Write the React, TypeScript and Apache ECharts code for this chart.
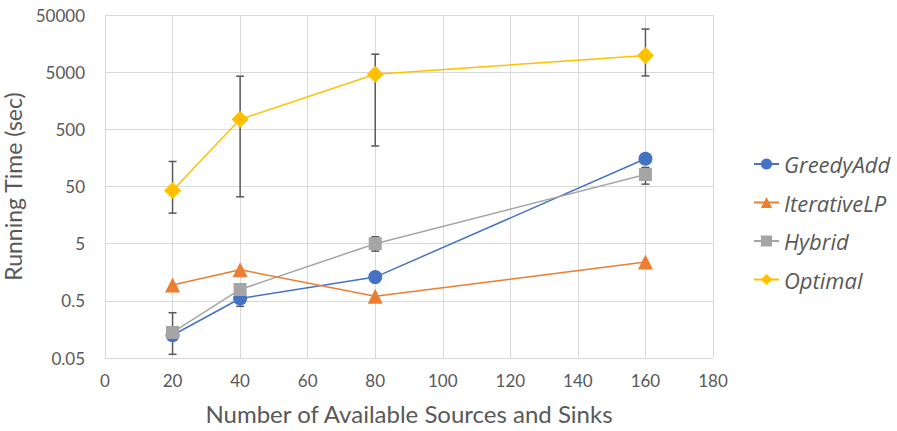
import React, { useEffect, useRef } from "react";
import * as echarts from "echarts";

const xValues = [20, 40, 80, 160];
const greedyAdd = [0.125, 0.55, 1.3, 153];
const iterativeLP = [0.95, 1.75, 0.6, 2.4];
const hybrid = [0.14, 0.79, 5.0, 81];
const optimal = [42.6, 748, 4610, 9750];

const optimalLow = [17.1, 33, 256, 4300];
const optimalHigh = [137, 4250, 10300, 28400];
const hybridLow = [0.058, 0.4, 3.7, 55];
const hybridHigh = [0.31, 0.95, 6.6, 108];

const yTickLabels = ["0.05", "0.5", "5", "50", "500", "5000", "50000"];
const Y_BASE = 0.05;

const toY = (v: number) => Math.log10(v / Y_BASE);

const FONT = "Lato";
const TEXT = "#595959";

export default function App() {
  const ref = useRef<HTMLDivElement>(null);
  useEffect(() => {
    if (!ref.current) return;
    const chart = echarts.init(ref.current, undefined, { renderer: "svg" });
    const pts = (arr: number[]) => xValues.map((x, i) => [x, toY(arr[i])]);
    const errData = [
      ...xValues.map((x, i) => [x, toY(optimalLow[i]), toY(optimalHigh[i])]),
      ...xValues.map((x, i) => [x, toY(hybridLow[i]), toY(hybridHigh[i])]),
    ];
    chart.setOption({
      animation: false,
      backgroundColor: "#fff",
      textStyle: { fontFamily: FONT },
      grid: {
        left: 105,
        right: 184,
        top: 15,
        bottom: 73,
        containLabel: false,
        outerBoundsMode: "none",
      },
      legend: {
        orient: "vertical",
        left: 748,
        top: 148,
        itemGap: 16.5,
        itemWidth: 25,
        itemHeight: 14,
        textStyle: { fontFamily: "Open Sans", fontSize: 22, fontStyle: "italic", color: TEXT },
        data: ["GreedyAdd", "IterativeLP", "Hybrid", "Optimal"],
      },
      xAxis: {
        type: "value",
        min: 0,
        max: 180,
        interval: 20,
        name: "Number of Available Sources and Sinks",
        nameLocation: "middle",
        nameGap: 43,
        nameTextStyle: { fontFamily: FONT, fontSize: 24, color: TEXT },
        axisLine: { show: true, lineStyle: { color: "#d9d9d9" } },
        axisTick: { show: false },
        axisLabel: { fontFamily: FONT, fontSize: 17, color: TEXT, margin: 14 },
        splitLine: { show: true, lineStyle: { color: "#d9d9d9" } },
      },
      yAxis: {
        type: "value",
        min: 0,
        max: 6,
        interval: 1,
        name: "Running Time (sec)",
        nameLocation: "middle",
        nameGap: 72,
        nameTextStyle: { fontFamily: FONT, fontSize: 23, color: TEXT },
        axisLine: { show: true, lineStyle: { color: "#d9d9d9" } },
        axisTick: { show: false },
        axisLabel: {
          fontFamily: FONT,
          fontSize: 17,
          color: TEXT,
          margin: 20,
          formatter: (v: number) => yTickLabels[Math.round(v)] ?? "",
        },
        splitLine: { show: true, lineStyle: { color: "#d9d9d9" } },
      },
      series: [
        {
          type: "custom",
          name: "errors",
          silent: true,
          z: 1,
          data: errData,
          renderItem: (params: any, api: any) => {
            const x = api.value(0);
            const lo = api.coord([x, api.value(1)]);
            const hi = api.coord([x, api.value(2)]);
            const cap = 4;
            const style = { stroke: "#595959", lineWidth: 1.5 };
            return {
              type: "group",
              children: [
                { type: "line", shape: { x1: lo[0], y1: lo[1], x2: hi[0], y2: hi[1] }, style },
                { type: "line", shape: { x1: lo[0] - cap, y1: lo[1], x2: lo[0] + cap, y2: lo[1] }, style },
                { type: "line", shape: { x1: hi[0] - cap, y1: hi[1], x2: hi[0] + cap, y2: hi[1] }, style },
              ],
            };
          },
        },
        {
          type: "line",
          name: "Optimal",
          data: pts(optimal),
          symbol: "diamond",
          symbolSize: 17,
          z: 2,
          itemStyle: { color: "#FFC000" },
          lineStyle: { color: "#FFC000", width: 1.5 },
        },
        {
          type: "line",
          name: "Hybrid",
          data: pts(hybrid),
          symbol: "rect",
          symbolSize: 13,
          z: 3,
          itemStyle: { color: "#A5A5A5" },
          lineStyle: { color: "#A5A5A5", width: 1.5 },
        },
        {
          type: "line",
          name: "IterativeLP",
          data: pts(iterativeLP),
          symbol: "triangle",
          symbolSize: 15,
          z: 3,
          itemStyle: { color: "#ED7D31" },
          lineStyle: { color: "#ED7D31", width: 1.5 },
        },
        {
          type: "line",
          name: "GreedyAdd",
          data: pts(greedyAdd),
          symbol: "circle",
          symbolSize: 14,
          z: 2,
          itemStyle: { color: "#4472C4" },
          lineStyle: { color: "#4472C4", width: 1.5 },
        },
      ],
    });
    return () => chart.dispose();
  }, []);
  return (
    <div
      ref={ref}
      style={{ position: "fixed", left: 0, top: 0, width: 897, height: 431 }}
    />
  );
}
